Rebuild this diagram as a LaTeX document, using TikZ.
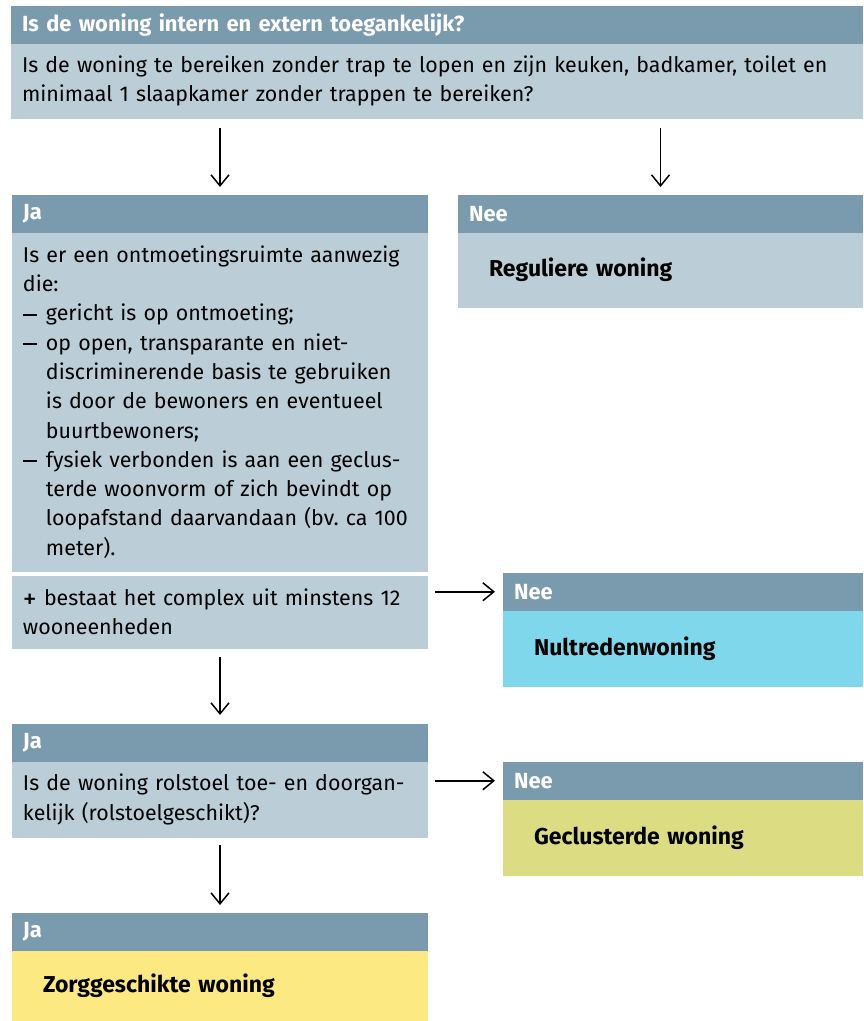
\documentclass[tikz,border=0pt]{standalone}
\usepackage{fontspec}
\setmainfont{Fira Sans}
\usetikzlibrary{positioning,arrows.meta}

\definecolor{kopkleur}{HTML}{7A9AAE}
\definecolor{vakkleur}{HTML}{BBCDD6}
\definecolor{cyaan}{HTML}{7ED7EA}
\definecolor{geelgroen}{HTML}{DCDD82}
\definecolor{geel}{HTML}{FDE981}

\newcommand{\streep}{\makebox[23pt][l]{\rule[0.25em]{14pt}{1.8pt}}}
\newcommand{\inspring}{\hspace*{23pt}}

\tikzset{
  kop/.style={fill=kopkleur, text=white, font=\fontsize{21.9}{29.3}\selectfont\bfseries, anchor=north west,
    minimum height=37.5pt, inner xsep=11pt, inner ysep=0pt, align=left, outer sep=0pt},
  vak/.style={fill=vakkleur, inner xsep=11pt, inner ysep=0pt, align=left, outer sep=0pt},
  uitkomst/.style={vak, font=\fontsize{23}{29.3}\selectfont\bfseries, inner xsep=31pt},
  pijl/.style={-{Straight Barb[length=11pt,width=18pt]}, line width=1.5pt},
}

\begin{document}
\frenchspacing
\begin{tikzpicture}[x=1pt, y=-1pt]
  \fontsize{21.4}{29.3}\selectfont
  \useasboundingbox (0,0) rectangle (863,1021);
  % Define nodes
  \node[kop, minimum width=852pt, text width=830pt] (vraagkop) at (11,6)
    {Is de woning intern en extern toegankelijk?};
  \node[vak, minimum width=852pt, text width=830pt, minimum height=75pt, below=0pt of vraagkop] (vraag)
    {Is de woning te bereiken zonder trap te lopen en zijn keuken, badkamer, toilet en\\
     minimaal 1 slaapkamer zonder trappen te bereiken?};
  \node[kop, minimum width=416pt, text width=394pt] (jakop1) at (12,195) {Ja};
  \node[vak, minimum width=416pt, text width=394pt, minimum height=339pt, below=0pt of jakop1] (ja1)
    {Is er een ontmoetingsruimte aanwezig\\
     die:\\
     \streep gericht is op ontmoeting;\\
     \streep op open, transparante en niet-\\
     \inspring discriminerende basis te gebruiken\\
     \inspring is door de bewoners en eventueel\\
     \inspring buurtbewoners;\\
     \streep fysiek verbonden is aan een geclus-\\
     \inspring terde woonvorm of zich bevindt op\\
     \inspring loopafstand daarvandaan (bv. ca 100\\
     \inspring meter).};
  \node[vak, minimum width=416pt, text width=394pt, minimum height=73pt, below=4pt of ja1] (complex)
    {\raisebox{-0.12em}{\scalebox{1.3}{+}} bestaat het complex uit minstens 12\\ wooneenheden};
  \node[kop, minimum width=405pt, text width=383pt] (neekop1) at (458,195) {Nee};
  \node[uitkomst, minimum width=405pt, text width=343pt, minimum height=75pt, below=0pt of neekop1] (nee1)
    {Reguliere woning};
  \node[kop, minimum width=360pt, text width=338pt] (neekop2) at (503,573) {Nee};
  \node[uitkomst, fill=cyaan, minimum width=360pt, text width=298pt, minimum height=76pt, below=0pt of neekop2] (nee2)
    {Nultredenwoning};
  \node[kop, minimum width=416pt, text width=394pt] (jakop2) at (12,724) {Ja};
  \node[vak, minimum width=416pt, text width=394pt, minimum height=76pt, below=0pt of jakop2] (ja2)
    {Is de woning rolstoel toe- en doorgan-\\kelijk (rolstoelgeschikt)?};
  \node[kop, minimum width=360pt, text width=338pt] (neekop3) at (503,762) {Nee};
  \node[uitkomst, fill=geelgroen, minimum width=360pt, text width=298pt, minimum height=76pt, below=0pt of neekop3] (nee3)
    {Geclusterde woning};
  \node[kop, minimum width=416pt, text width=394pt] (jakop3) at (12,913) {Ja};
  \node[uitkomst, fill=geel, minimum width=416pt, text width=354pt, minimum height=70pt, below=0pt of jakop3] (ja3)
    {Zorggeschikte woning};
  % Connect nodes
  \draw[pijl] ([yshift=-9pt]vraag.south -| jakop1.north) -- ([yshift=8pt]jakop1.north);
  \draw[pijl] ([yshift=-9pt]vraag.south -| neekop1.north) -- ([yshift=8pt]neekop1.north);
  \draw[pijl] ([xshift=7pt]complex.east |- neekop2.west) -- ([xshift=-8pt]neekop2.west);
  \draw[pijl] ([yshift=-8pt]complex.south) -- ([yshift=9pt]jakop2.north);
  \draw[pijl] ([xshift=7pt]ja2.east |- neekop3.west) -- ([xshift=-8pt]neekop3.west);
  \draw[pijl] ([yshift=-7pt]ja2.south) -- ([yshift=8pt]jakop3.north);
\end{tikzpicture}
\end{document}
